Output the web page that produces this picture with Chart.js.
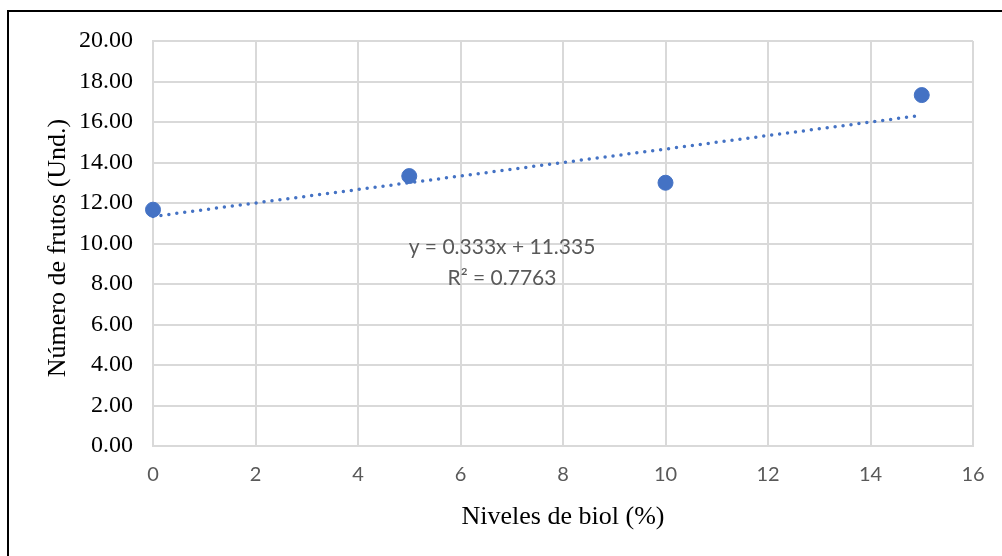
<!DOCTYPE html>
<html>
<head>
<meta charset="utf-8">
<script src="https://cdn.jsdelivr.net/npm/chart.js@4.4.1/dist/chart.umd.min.js"></script>
<style>
  html, body { margin: 0; padding: 0; background: #fff; }
  #wrap { position: relative; width: 1002px; height: 556px; overflow: hidden; }
  #frame {
    position: absolute; left: 7px; top: 10px; width: 1100px; height: 700px;
    border-left: 2px solid #000; border-top: 2px solid #000; pointer-events: none;
  }
  canvas { position: absolute; left: 0; top: 0; }
</style>
</head>
<body>
<div id="wrap">
  <canvas id="frutosChart" width="1002" height="556"></canvas>
  <div id="frame"></div>
</div>
<script>
// Niveles de biol (%) y número de frutos promedio
const nivelesBiol = [0, 5, 10, 15];
const numeroFrutos = [11.67, 13.33, 13.0, 17.33];

// Línea de tendencia lineal (Excel)
const pendiente = 0.333;
const intercepto = 11.335;
const r2 = 0.7763;

const ecuacion = "y = " + pendiente + "x + " + intercepto.toFixed(3);
const textoR2 = "R² = " + r2;

const AZUL = "#4472C4";
const GRIS = "#d9d9d9";
const SERIF = "'Liberation Serif', 'Times New Roman', serif";
const SANS = "Lato, 'Open Sans', sans-serif";

const puntos = nivelesBiol.map((x, i) => ({ x: x, y: numeroFrutos[i] }));
const xMin = Math.min(...nivelesBiol);
const xMax = Math.max(...nivelesBiol);
const tendencia = [
  { x: xMin, y: intercepto + pendiente * xMin },
  { x: xMax, y: intercepto + pendiente * xMax },
];

// Títulos de ejes y etiqueta de la ecuación
const textos = {
  id: "textos",
  afterDraw(chart) {
    const ctx = chart.ctx;
    ctx.save();
    ctx.fillStyle = "#000";
    ctx.textAlign = "center";
    ctx.textBaseline = "middle";
    ctx.font = "26px " + SERIF;
    ctx.fillText("Niveles de biol (%)", 563, 517);

    ctx.translate(58, 248);
    ctx.rotate(-Math.PI / 2);
    ctx.fillText("Número de frutos (Und.)", 0, 0);
    ctx.restore();

    ctx.save();
    ctx.fillStyle = "#595959";
    ctx.textAlign = "center";
    ctx.textBaseline = "middle";
    ctx.font = "21px " + SANS;
    ctx.fillText(ecuacion, 502, 247);
    ctx.fillText(textoR2, 502, 278);
    ctx.restore();
  },
};

new Chart(document.getElementById("frutosChart"), {
  type: "scatter",
  data: {
    datasets: [
      {
        label: "Tendencia",
        type: "line",
        data: tendencia,
        borderColor: AZUL,
        borderWidth: 3.5,
        borderDash: [0, 8],
        borderCapStyle: "round",
        pointRadius: 0,
        fill: false,
        order: 2,
      },
      {
        label: "Número de frutos",
        data: puntos,
        backgroundColor: AZUL,
        borderColor: AZUL,
        pointRadius: 7.5,
        order: 1,
      },
    ],
  },
  options: {
    responsive: false,
    animation: false,
    clip: false,
    layout: { padding: { left: 0, top: 41, right: 29, bottom: 0 } },
    plugins: { legend: { display: false }, tooltip: { enabled: false } },
    scales: {
      x: {
        type: "linear",
        min: 0,
        max: 16,
        ticks: {
          stepSize: 2,
          color: "#595959",
          padding: 17,
          font: { family: SANS, size: 20 },
        },
        grid: { color: GRIS, lineWidth: 2, drawTicks: false },
        border: { color: GRIS, width: 2 },
        afterFit(scale) { scale.height = 110; },
      },
      y: {
        min: 0,
        max: 20,
        ticks: {
          stepSize: 2,
          color: "#000",
          padding: 20,
          font: { family: SERIF, size: 24 },
          callback: (v) => v.toFixed(2),
        },
        grid: { color: GRIS, lineWidth: 2, drawTicks: false },
        border: { color: GRIS, width: 2 },
        afterFit(scale) { scale.width = 153; },
      },
    },
  },
  plugins: [textos],
});
</script>
</body>
</html>
